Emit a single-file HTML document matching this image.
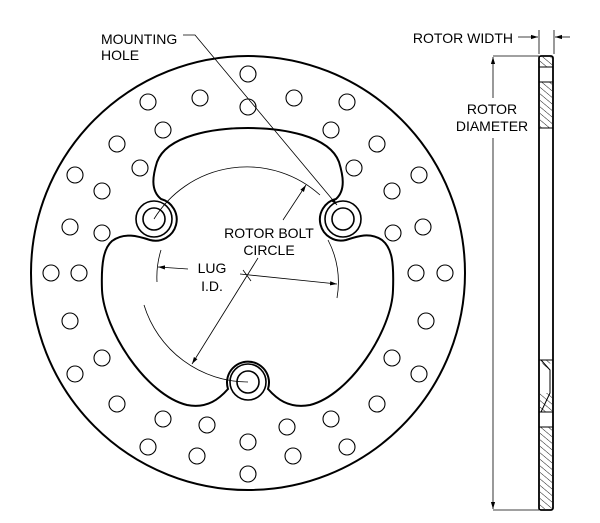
<!DOCTYPE html>
<html><head><meta charset="utf-8"><style>
html,body{margin:0;padding:0;background:#fff;}
svg{display:block;}
text{font-family:"Liberation Sans",Arial,sans-serif;font-size:14px;fill:#000;}
</style></head><body>
<svg width="600" height="523" viewBox="0 0 600 523" xmlns="http://www.w3.org/2000/svg">
<defs>
<pattern id="h" patternUnits="userSpaceOnUse" width="5" height="5" patternTransform="rotate(-50)">
<rect width="5" height="5" fill="#fff"/><line x1="0" y1="0" x2="0" y2="5" stroke="#000" stroke-width="0.9"/>
</pattern>
<marker id="a" viewBox="0 0 10 10" refX="10" refY="5" markerWidth="7" markerHeight="7" orient="auto-start-reverse" markerUnits="userSpaceOnUse"><path d="M0,2 L10,5 L0,8 z" fill="#000"/></marker>
</defs>
<circle cx="248" cy="273" r="217" fill="none" stroke="#000" stroke-width="2"/>
<g fill="none" stroke="#000" stroke-width="1.1">
<circle cx="248" cy="74" r="8"/>
<circle cx="148" cy="102" r="8"/><circle cx="200" cy="98" r="8"/><circle cx="248" cy="107" r="8"/><circle cx="294" cy="98" r="8"/><circle cx="347" cy="102" r="8"/>
<circle cx="163" cy="130" r="8"/><circle cx="331" cy="130" r="8"/>
<circle cx="117" cy="144" r="8"/><circle cx="377" cy="144" r="8"/>
<circle cx="140" cy="168" r="8"/><circle cx="354" cy="168" r="8"/>
<circle cx="75" cy="175" r="8"/><circle cx="419" cy="175" r="8"/>
<circle cx="102" cy="191" r="8"/><circle cx="392" cy="191" r="8"/>
<circle cx="70" cy="227" r="8"/><circle cx="423" cy="227" r="8"/>
<circle cx="102" cy="233" r="8"/><circle cx="393" cy="233" r="8"/>
<circle cx="51" cy="273" r="8"/><circle cx="79" cy="273" r="8"/><circle cx="416" cy="273" r="8"/><circle cx="445" cy="273" r="8"/>
<circle cx="70" cy="321" r="8"/><circle cx="426" cy="321" r="8"/>
<circle cx="102" cy="358" r="8"/><circle cx="392" cy="358" r="8"/>
<circle cx="75" cy="374" r="8"/><circle cx="419" cy="374" r="8"/>
<circle cx="117" cy="404" r="8"/><circle cx="377" cy="404" r="8"/>
<circle cx="163" cy="419" r="8"/><circle cx="331" cy="419" r="8"/>
<circle cx="207" cy="425" r="8"/><circle cx="287" cy="427" r="8"/>
<circle cx="248" cy="442" r="8"/>
<circle cx="148" cy="447" r="8"/><circle cx="197" cy="456" r="8"/><circle cx="293" cy="456" r="8"/><circle cx="347" cy="447" r="8"/>
<circle cx="248" cy="474" r="8"/>
</g>
<path d="M161,199 C150,190 153,175 157,162 C167,135 215,128 248,128 C281,128 329,135 339,162 C343,175 346,190 336,199
A21,21 0 1 0 346,240 C358,236 370,232 382,240 C392,248 394,262 393,290 C392,330 350,395 310,405
C288,409 276,398 268,389 A21,21 0 1 0 228,389 C220,398 208,409 187,405 C146,395 104,330 102,290
C101,262 104,248 112,241 C124,232 138,236 150,240 A21,21 0 0 0 161,199 Z" fill="none" stroke="#000" stroke-width="2"/>
<g fill="none" stroke="#000" stroke-width="1.6">
<circle cx="154" cy="219" r="18"/><circle cx="154" cy="219" r="11"/>
<circle cx="343" cy="219" r="18"/><circle cx="343" cy="219" r="11"/>
<circle cx="248" cy="382" r="18"/><circle cx="248" cy="382" r="11"/>
</g>
<g fill="none" stroke="#000" stroke-width="0.8">
<path d="M154,219 A109,109 0 0 1 320,195"/>
<path d="M144,305 A109,109 0 0 0 248,382"/>
<path d="M161,250 A90,90 0 0 0 157,282"/>
<path d="M328,240 A90,90 0 0 1 337,298"/>
<line x1="283" y1="220" x2="306" y2="185" marker-end="url(#a)"/>
<line x1="258" y1="258" x2="192" y2="364" marker-end="url(#a)"/>
<line x1="243" y1="270" x2="251" y2="281"/>
<line x1="188" y1="269" x2="158" y2="267" marker-end="url(#a)"/>
<line x1="240" y1="274" x2="337" y2="284" marker-end="url(#a)"/>
<polyline points="183,35 195,35 337,205" marker-end="url(#a)"/>
</g>
<text x="101" y="44">MOUNTING</text>
<text x="101" y="60">HOLE</text>
<text x="269" y="238" text-anchor="middle">ROTOR BOLT</text>
<text x="269" y="255" text-anchor="middle">CIRCLE</text>
<text x="212" y="273" text-anchor="middle">LUG</text>
<text x="212" y="291" text-anchor="middle">I.D.</text>
<rect x="539" y="56" width="14" height="454" rx="2" fill="#fff" stroke="#000" stroke-width="1.8"/>
<rect x="540" y="57" width="12" height="10" fill="url(#h)"/>
<rect x="540" y="82" width="12" height="46" fill="url(#h)"/>
<rect x="540" y="393" width="12" height="19" fill="url(#h)"/>
<path d="M540,360 L552,360 L547,370 Z" fill="url(#h)"/>
<rect x="540" y="427" width="12" height="82" fill="url(#h)"/>
<g stroke="#000" stroke-width="1" fill="none">
<line x1="539" y1="67" x2="553" y2="67"/><line x1="539" y1="82" x2="553" y2="82"/>
<line x1="539" y1="128" x2="553" y2="128"/><line x1="539" y1="360" x2="553" y2="360"/>
<polyline points="541,360 550,370 550,393 541,412"/>
<line x1="539" y1="412" x2="553" y2="412"/><line x1="539" y1="427" x2="553" y2="427"/>
</g>
<g stroke="#000" stroke-width="0.8" fill="none">
<line x1="493" y1="56" x2="539" y2="56"/><line x1="493" y1="510" x2="539" y2="510"/>
<line x1="493" y1="98" x2="493" y2="57" marker-end="url(#a)"/>
<line x1="493" y1="138" x2="493" y2="509" marker-end="url(#a)"/>
<line x1="539" y1="30" x2="539" y2="54"/><line x1="554" y1="30" x2="554" y2="54"/>
<line x1="518" y1="37" x2="538" y2="37" marker-end="url(#a)"/>
<line x1="570" y1="37" x2="555" y2="37" marker-end="url(#a)"/>
</g>
<text x="492" y="114" text-anchor="middle">ROTOR</text>
<text x="492" y="131" text-anchor="middle">DIAMETER</text>
<text x="513" y="43" text-anchor="end">ROTOR WIDTH</text>
</svg>
</body></html>
